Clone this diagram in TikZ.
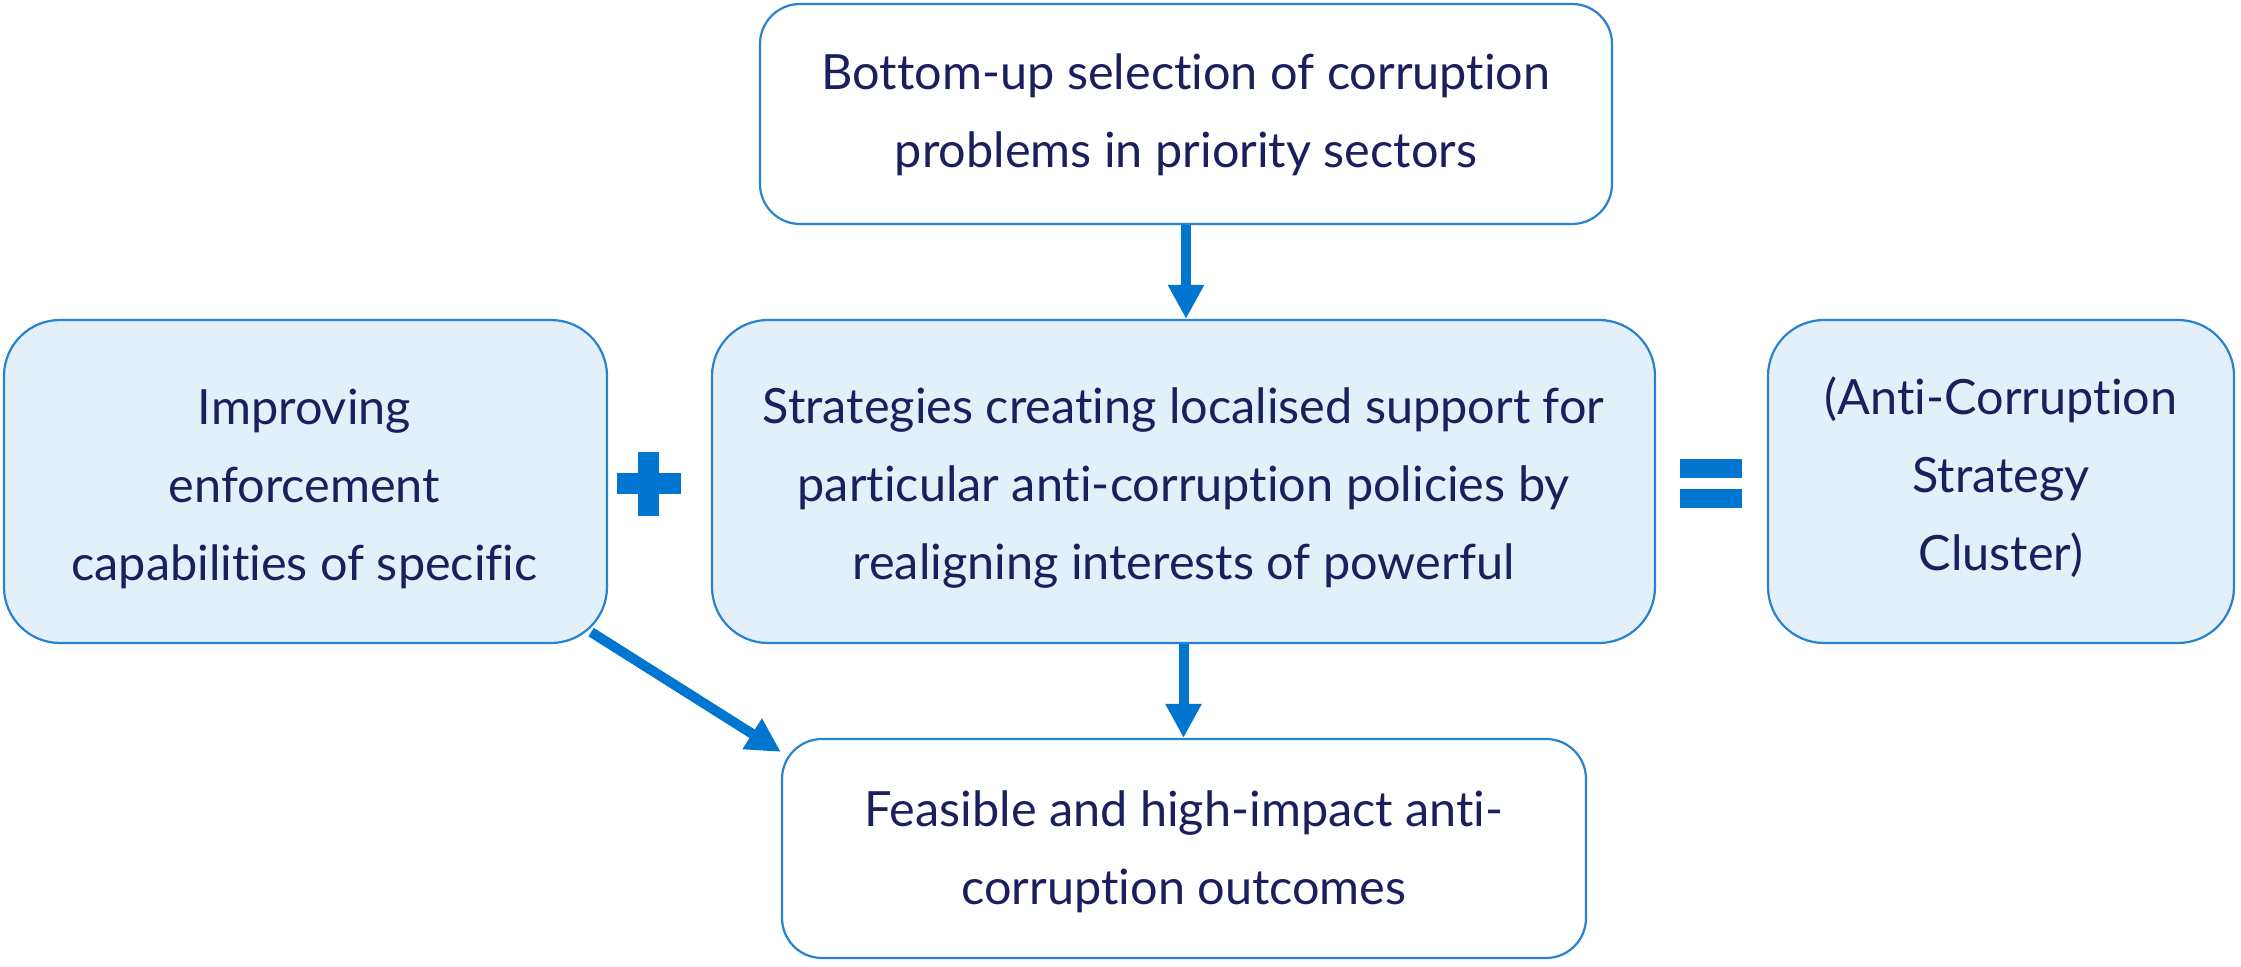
\documentclass[tikz,border=0pt]{standalone}
\usepackage{fontspec}
\setmainfont{Lato}[Ligatures=NoCommon]
\usetikzlibrary{arrows.meta,calc}
\definecolor{navy}{RGB}{27,31,94}
\definecolor{edgeblue}{RGB}{40,130,210}
\definecolor{arrblue}{RGB}{0,118,208}
\definecolor{lightfill}{RGB}{227,239,249}
\tikzset{
  box/.style={draw=edgeblue, line width=1.1pt, rounded corners=20pt, inner sep=0pt},
  filledbox/.style={box, fill=lightfill, rounded corners=28pt},
  label text/.style={align=center, text=navy, font=\fontsize{24.3}{39}\selectfont, inner sep=0pt},
  arr/.style={draw=arrblue, line width=5pt, -{Triangle[length=17pt,width=17pt]}},
  sym/.style={fill=arrblue, draw=none}
}
\begin{document}
\begin{tikzpicture}[x=0.5pt,y=-0.5pt]
\useasboundingbox (0,0) rectangle (2241,967);
% boxes
\node[box, minimum width=426pt, minimum height=110pt] (top) at (1186,114) {};
\node[filledbox, minimum width=301.5pt, minimum height=161.5pt] (left) at (305.5,481.5) {};
\node[filledbox, minimum width=471.5pt, minimum height=161.5pt] (mid) at (1183.5,481.5) {};
\node[filledbox, minimum width=233pt, minimum height=161.5pt] (right) at (2001,481.5) {};
\node[box, minimum width=402pt, minimum height=109.5pt] (bot) at (1184,848.5) {};
% texts
\node[label text] (toptext) at ($(top)+(0,1)$)
  {Bottom-up selection of corruption\\problems in priority sectors};
\node[label text] (lefttext) at ($(left)+(-1,7)$)
  {Improving\\enforcement\\capabilities of specific};
\node[label text] (midtext) at ($(mid)+(0,7)$)
  {Strategies creating localised support for\\particular anti-corruption policies by\\realigning interests of powerful};
\node[label text] (righttext) at ($(right)+(0,-4)$)
  {(Anti-Corruption\\Strategy\\Cluster)};
\node[label text] (bottext) at ($(bot)+(0,3)$)
  {Feasible and high-impact anti-\\corruption outcomes};
% connectors
\draw[arr] (top) -- (top |- mid.north);
\draw[arr] (mid) -- (mid |- bot.north);
\draw[arr] ($(left.south east)+(-17,-12)$) -- ($(bot.north west)+(0,14)$);
% plus sign
\fill[sym] (617,473) rectangle (681,494);
\fill[sym] (638,452) rectangle (659,516);
% equals sign
\fill[sym] (1680,459) rectangle (1742,478);
\fill[sym] (1680,489) rectangle (1742,508);
\end{tikzpicture}
\end{document}
